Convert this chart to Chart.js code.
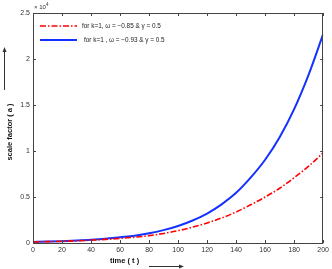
<!DOCTYPE html>
<html><head><meta charset="utf-8">
<script src="https://cdn.jsdelivr.net/npm/chart.js@4"></script>
<style>html,body{margin:0;padding:0;background:#fff}#c{display:block}</style>
</head><body>
<canvas id="c" width="332" height="269"></canvas>
<script>
const times = [0,10,20,30,40,50,60,70,80,90,100,110,120,130,140,150,160,170,180,190,200];
const seriesRed = [110,145,190,240,310,390,500,630,800,1040,1340,1720,2180,2720,3370,4150,5000,5950,7100,8350,9800];
const seriesBlue = [110,150,200,260,340,460,630,800,1050,1400,1850,2450,3200,4200,5450,7100,9050,11500,14550,18300,22700];
const xTicks = [0,20,40,60,80,100,120,140,160,180,200];
const yTicks = [0,5000,10000,15000,20000,25000];
const labelRed = 'for k=1, \u03c9 = \u22120.85 & \u03b3 = 0.5';
const labelBlue = 'for k=1 , \u03c9 = \u22120.93 & \u03b3 = 0.5';
const xTitle = 'time ( t )';
const yTitle = 'scale factor ( a )';

const FONT = '"Liberation Sans", Arial, sans-serif';
const AX = '#444';

const deco = {
  id:'deco',
  afterDraw(chart){
    const {ctx, chartArea:a, scales:{x,y}} = chart;
    ctx.save();
    ctx.strokeStyle = AX; ctx.lineWidth = 1;
    ctx.strokeRect(Math.round(a.left)+0.5, Math.round(a.top)+0.5, Math.round(a.right-a.left)-1, Math.round(a.bottom-a.top));
    ctx.beginPath();
    xTicks.forEach(v=>{ const px=Math.round(x.getPixelForValue(v))+0.5;
      ctx.moveTo(px,a.bottom); ctx.lineTo(px,a.bottom-3);
      ctx.moveTo(px,a.top); ctx.lineTo(px,a.top+3); });
    yTicks.forEach(v=>{ const py=Math.round(y.getPixelForValue(v))+0.5;
      ctx.moveTo(a.left,py); ctx.lineTo(a.left+3,py);
      ctx.moveTo(a.right,py); ctx.lineTo(a.right-3,py); });
    ctx.stroke();
    ctx.fillStyle = '#333';
    ctx.font = '6px '+FONT; ctx.textBaseline='alphabetic'; ctx.textAlign='left';
    ctx.fillText('\u00d7 10', a.left+1, 9);
    ctx.font = '4.5px '+FONT;
    ctx.fillText('4', a.left+13, 5.5);
    ctx.lineWidth = 1.6;
    ctx.strokeStyle = 'rgb(255,0,0)'; ctx.setLineDash([6,2,1.5,2]);
    ctx.beginPath(); ctx.moveTo(40,26); ctx.lineTo(77,26); ctx.stroke();
    ctx.setLineDash([]); ctx.strokeStyle = 'rgb(20,50,255)'; ctx.lineWidth=2;
    ctx.beginPath(); ctx.moveTo(40,40); ctx.lineTo(77,40); ctx.stroke();
    ctx.fillStyle = '#222'; ctx.font = '6.4px '+FONT; ctx.textBaseline='middle';
    ctx.fillText(labelRed, 82, 26);
    ctx.fillText(labelBlue, 84, 40);
    ctx.font = 'bold 7.5px '+FONT; ctx.textAlign='left'; ctx.textBaseline='middle';
    ctx.fillStyle='#111';
    ctx.fillText(xTitle, 110, 261);
    ctx.strokeStyle='#333'; ctx.lineWidth=1;
    ctx.beginPath(); ctx.moveTo(149,266.5); ctx.lineTo(181,266.5); ctx.stroke();
    ctx.beginPath(); ctx.moveTo(184,266.5); ctx.lineTo(179,264.5); ctx.lineTo(179,268.5); ctx.closePath(); ctx.fillStyle='#333'; ctx.fill();
    ctx.save(); ctx.translate(10,132); ctx.rotate(-Math.PI/2);
    ctx.textAlign='center'; ctx.fillStyle='#111'; ctx.font='bold 7.5px '+FONT;
    ctx.fillText(yTitle,0,0); ctx.restore();
    ctx.beginPath(); ctx.moveTo(4.5,90); ctx.lineTo(4.5,51); ctx.stroke();
    ctx.beginPath(); ctx.moveTo(4.5,47); ctx.lineTo(2.5,52); ctx.lineTo(6.5,52); ctx.closePath(); ctx.fill();
    ctx.restore();
  }
};

new Chart(document.getElementById('c'), {
  type:'line',
  data:{ datasets:[
    { label:labelRed, data: times.map((t,i)=>({x:t,y:seriesRed[i]})), borderColor:'rgb(255,0,0)', borderWidth:1.6, borderDash:[6,2,1.5,2], pointRadius:0, cubicInterpolationMode:'monotone', fill:false },
    { label:labelBlue, data: times.map((t,i)=>({x:t,y:seriesBlue[i]})), borderColor:'rgb(20,50,255)', borderWidth:2, pointRadius:0, cubicInterpolationMode:'monotone', fill:false }
  ]},
  options:{
    responsive:false, animation:false, devicePixelRatio:1,
    layout:{padding:{top:13,right:8,left:0,bottom:0}},
    plugins:{legend:{display:false}, tooltip:{enabled:false}},
    scales:{
      x:{ type:'linear', min:0, max:200,
        afterBuildTicks(s){ s.ticks = xTicks.map(v=>({value:v})); },
        afterFit(s){ s.height = 26; },
        grid:{display:false, drawTicks:false}, border:{display:false},
        ticks:{ padding:3, color:'#333', font:{family:FONT,size:7}, maxRotation:0, autoSkip:false }
      },
      y:{ type:'linear', min:0, max:25000,
        afterBuildTicks(s){ s.ticks = yTicks.map(v=>({value:v})); },
        afterFit(s){ s.width = 33; },
        grid:{display:false, drawTicks:false}, border:{display:false},
        ticks:{ padding:3, color:'#333', font:{family:FONT,size:7}, callback:v=>String(v/10000) }
      }
    }
  },
  plugins:[deco]
});
</script>
</body></html>
